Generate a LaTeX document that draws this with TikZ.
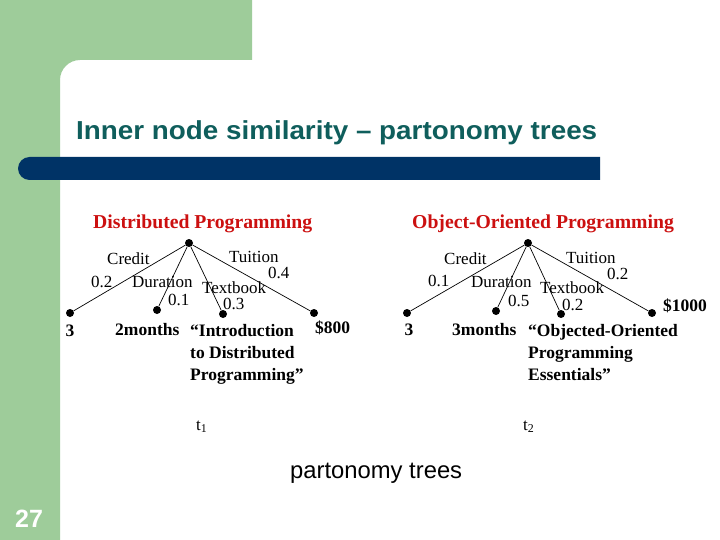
\documentclass[tikz,border=0pt]{standalone}
\usepackage{fontspec}
\usepackage{graphicx}
\setmainfont{Liberation Serif}
\newfontfamily\arialfont{Liberation Sans}
\definecolor{sgreen}{RGB}{158,204,154}
\definecolor{sblue}{RGB}{0,51,102}
\definecolor{steal}{RGB}{15,94,92}
\definecolor{sred}{RGB}{204,16,16}
\tikzset{
  dot/.style={circle,fill=black,inner sep=0pt,minimum size=8pt},
  edge/.style={line width=0.7pt},
  lbl/.style={font=\fontsize{17}{20}\selectfont,inner sep=0pt,anchor=base west},
  leaf/.style={font=\bfseries\fontsize{17.5}{21.8}\selectfont,inner sep=0pt,anchor=base west,align=left},
  ttl/.style={font=\bfseries\fontsize{19.7}{23}\selectfont,text=sred,inner sep=0pt,anchor=base west},
}
\begin{document}
\begin{tikzpicture}[x=1pt,y=-1pt]
\useasboundingbox (0,0) rectangle (720,540);
\fill[white] (0,0) rectangle (720,540);
% green frame
\fill[sgreen] (0,0) -- (252,0) -- (252,60) -- (80,60) .. controls (69,60) and (60,69) .. (60,80) -- (60,540) -- (0,540) -- cycle;
% blue bar
\fill[sblue] (600,157) -- (29.5,157) .. controls (23.2,157) and (18,162.2) .. (18,168.5) .. controls (18,174.8) and (23.2,180) .. (29.5,180) -- (600,180) -- cycle;
% slide title
\node[inner sep=0pt,anchor=base west,text=steal,font=\arialfont\bfseries\fontsize{26}{30}\selectfont] (title) at (76,139.5) {\scalebox{1.07}[1]{Inner node similarity \textendash{} partonomy trees}};
% page number
\node[inner sep=0pt,anchor=base west,text=white,font=\arialfont\bfseries\fontsize{25}{30}\selectfont] (pnum) at (15,527) {27};

% ---------- tree 1 ----------
\node[ttl] (t1title) at (93,229) {Distributed Programming};
\node[dot] (r1) at (189,243) {};
\node[dot] (a1) at (70,313) {};
\node[dot] (b1) at (157,310) {};
\node[dot] (c1) at (223,314) {};
\node[dot] (d1) at (314,313) {};
\draw[edge] (r1) -- (a1);
\draw[edge] (r1) -- (b1);
\draw[edge] (r1) -- (c1);
\draw[edge] (r1) -- (d1);
\node[lbl] (cr1) at (107,264) {Credit};
\node[lbl] (tu1) at (229,262) {Tuition};
\node[lbl] (w14) at (268,278) {0.4};
\node[lbl] (w11) at (91,287) {0.2};
\node[lbl] (du1) at (132,287) {Duration};
\node[lbl] (tb1) at (202,293) {Textbook};
\node[lbl] (w12) at (168,305) {0.1};
\node[lbl] (w13) at (223,309) {0.3};
\node[leaf,anchor=base] (la1) at (70,336) {3};
\node[leaf] (lb1) at (115,335) {2months};
\node[leaf] (lc1) at (190,380.5) {``Introduction\\to Distributed\\Programming''};
\node[leaf] (ld1) at (315,333) {\$800};

% ---------- tree 2 ----------
\node[ttl] (t2title) at (412,229) {Object-Oriented Programming};
\node[dot] (r2) at (528,243) {};
\node[dot] (a2) at (407,313) {};
\node[dot] (b2) at (496,311) {};
\node[dot] (c2) at (561,314) {};
\node[dot] (d2) at (652,313) {};
\draw[edge] (r2) -- (a2);
\draw[edge] (r2) -- (b2);
\draw[edge] (r2) -- (c2);
\draw[edge] (r2) -- (d2);
\node[lbl] (cr2) at (444,264) {Credit};
\node[lbl] (tu2) at (566,263) {Tuition};
\node[lbl] (w24) at (607,279) {0.2};
\node[lbl] (w21) at (428,286) {0.1};
\node[lbl] (du2) at (471,287) {Duration};
\node[lbl] (tb2) at (540,293) {Textbook};
\node[lbl] (w22) at (508,306) {0.5};
\node[lbl] (w23) at (562,310) {0.2};
\node[leaf,anchor=base] (la2) at (409,335) {3};
\node[leaf] (lb2) at (452,335) {3months};
\node[leaf] (lc2) at (528,380) {``Objected-Oriented\\Programming\\Essentials''};
\node[leaf] (ld2) at (663,311) {\$1000};

% ---------- captions ----------
\node[lbl] (cap1) at (196,430) {t\textsubscript{1}};
\node[lbl] (cap2) at (523,430) {t\textsubscript{2}};
\node[inner sep=0pt,anchor=base west,font=\arialfont\fontsize{23.8}{28}\selectfont] (cap) at (290,478) {partonomy trees};
\end{tikzpicture}
\end{document}
